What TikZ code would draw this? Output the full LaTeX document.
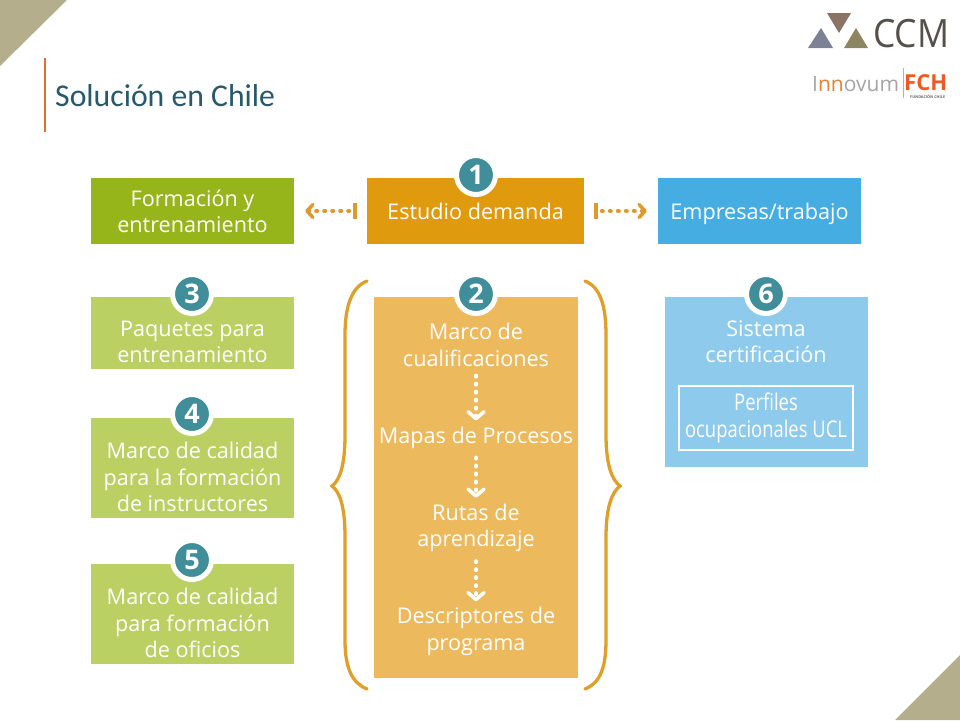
\documentclass[tikz,border=0pt]{standalone}
\usepackage{fontspec}
\usetikzlibrary{arrows.meta}
\setmainfont{Open Sans}
\newfontfamily\titlefont{Carlito}
\newfontfamily\condfont[FakeStretch=0.80]{Open Sans}
\definecolor{corner}{HTML}{B5AE8C}
\definecolor{titlecol}{HTML}{27596A}
\definecolor{barcol}{HTML}{E0702F}
\definecolor{grA}{HTML}{95B51A}
\definecolor{grB}{HTML}{BBD063}
\definecolor{orA}{HTML}{E09A0D}
\definecolor{orB}{HTML}{ECB95C}
\definecolor{blA}{HTML}{45ADE2}
\definecolor{blB}{HTML}{8ECAEC}
\definecolor{teal}{HTML}{3F8E99}
\definecolor{brace}{HTML}{DFA02A}
\definecolor{arrowcol}{HTML}{DD9A2B}
\definecolor{fchcol}{HTML}{EF5A24}
\definecolor{logoA}{HTML}{7B8296}
\definecolor{logoB}{HTML}{8D7266}
\definecolor{logoC}{HTML}{8D8460}
\definecolor{logoT}{HTML}{55504B}
\definecolor{innT}{HTML}{A5A5A5}
\definecolor{innO}{HTML}{E8802F}
\tikzset{
  x=1pt,y=-1pt,
  bodytext/.style={font=\fontsize{21.6}{26.3}\selectfont,text=white,align=center,inner sep=0pt},
  card/.style={bodytext,minimum width=#1,rectangle},
  badge/.style={circle,fill=teal,draw=white,line width=5pt,minimum size=39pt,inner sep=0pt,text=white,font=\fontsize{27}{27}\selectfont\bfseries},
  sidearrow/.style={draw=arrowcol,line width=4pt,dash pattern=on 1pt off 7pt,dash phase=3pt,line cap=round,
    {Bar[width=16pt,line width=3.5pt,sep=3pt]}-{Straight Barb[length=6pt,width=13pt,line width=3.5pt,round]}},
  downarrow/.style={draw=white,line width=4pt,dash pattern=on 1pt off 7pt,line cap=round,
    -{Straight Barb[length=7pt,width=16pt,line width=3.5pt,round]}},
  bracecurve/.style={draw=brace,line width=3.3pt,line cap=round},
}
\begin{document}
\begin{tikzpicture}
\useasboundingbox (0,0) rectangle (960,720);
\fill[white] (0,0) rectangle (960,720);
% corners
\fill[corner] (0,0) -- (67,0) -- (0,66) -- cycle;
\fill[corner] (960,720) -- (895,720) -- (960,655) -- cycle;
% title
\draw[barcol,line width=1.5pt] (45,58) -- (45,132);
\node[anchor=west,inner sep=0pt,text=titlecol,font=\titlefont\fontsize{31.7}{31.7}\selectfont] (title) at (55,96) {Solución en Chile};
% logo
\fill[logoA] (808,48) -- (833,48) -- (821,28) -- cycle;
\fill[logoB] (827,13) -- (851,13) -- (839,33) -- cycle;
\fill[logoC] (844,48) -- (868,48) -- (856,28) -- cycle;
\node[anchor=west,inner sep=0pt,text=logoT,font=\fontsize{39}{39}\selectfont,xscale=0.91] (ccm) at (873,34) {CCM};
\node[anchor=west,inner sep=0pt,text=innT,font=\fontsize{21}{21}\selectfont] (inn) at (812,84) {I\textcolor{innO}{nn}ovum};
\draw[black!30,line width=0.8pt] (903,68) -- (903,98);
\node[anchor=west,inner sep=0pt,text=fchcol,font=\fontsize{22}{22}\selectfont\bfseries] (fch) at (904,82.5) {FCH};
\node[anchor=west,inner sep=0pt,text=black!60,font=\fontsize{3.8}{3.8}\selectfont\bfseries] (fund) at (910,97) {FUNDACIÓN CHILE};
% top row
\node[card=203pt,minimum height=66pt,fill=grA] (form) at (192.5,211) {Formación y\\entrenamiento};
\node[card=217pt,minimum height=66pt,fill=orA,text height=18pt,text depth=2pt] (est) at (475.5,211) {Estudio demanda};
\node[card=203pt,minimum height=66pt,fill=blA,text height=18pt,text depth=2pt] (emp) at (759.5,211) {Empresas/trabajo};
% left column
\node[card=203pt,minimum height=72pt,fill=grB] (paq) at (192.5,333) {};
\node[bodytext] (paqt) at (192.5,342) {Paquetes para\\entrenamiento};
\node[card=203pt,minimum height=100pt,fill=grB] (cal) at (192.5,468) {};
\node[bodytext] (calt) at (192.5,477) {Marco de calidad\\para la formación\\de instructores};
\node[card=203pt,minimum height=100pt,fill=grB] (ofi) at (192.5,614) {};
\node[bodytext] (ofit) at (192.5,623) {Marco de calidad\\para formación\\de oficios};
% centre column
\node[card=204pt,minimum height=381pt,fill=orB] (mid) at (476,487.5) {};
\node[bodytext] (marco) at (476,345) {Marco de\\cualificaciones};
\node[bodytext] (mapas) at (476,437.5) {Mapas de Procesos};
\node[bodytext] (rutas) at (476,528) {Rutas de\\aprendizaje};
\node[bodytext] (desc) at (476,631.5) {Descriptores de\\programa};
% right column
\node[card=203pt,minimum height=170pt,fill=blB] (cert) at (766.5,382) {};
\node[bodytext] (certt) at (766,342) {Sistema\\certificación};
\node[draw=white,line width=1.5pt,minimum width=174pt,minimum height=64pt,inner sep=0pt,text=white,align=center,font=\condfont\fontsize{23}{27}\selectfont] (perf) at (766,418) {Perfiles\\ocupacionales UCL};
% badges
\node[badge] (b1) at (476,175) {1};
\node[badge] (b2) at (476,294) {2};
\node[badge] (b3) at (192,294) {3};
\node[badge] (b4) at (192,414) {4};
\node[badge] (b5) at (192,560) {5};
\node[badge] (b6) at (766,294) {6};
% side arrows
\draw[sidearrow,shorten <=7pt,shorten >=11pt] (est.west) -- (form.east);
\draw[sidearrow,shorten <=7pt,shorten >=11pt] (est.east) -- (emp.west);
% vertical arrows
\draw[downarrow,shorten <=9pt,shorten >=6pt] (marco.south) -- (mapas.north);
\draw[downarrow,shorten <=9pt,shorten >=6pt] (mapas.south) -- (rutas.north);
\draw[downarrow,shorten <=9pt,shorten >=6pt] (rutas.south) -- (desc.north);
% braces
\draw[bracecurve] (367,281) .. controls (352,287) and (345,305) .. (345,335)
  -- (345,435) .. controls (345,465) and (340,480) .. (332,486)
  .. controls (340,492) and (345,507) .. (345,537)
  -- (345,640) .. controls (345,668) and (352,683) .. (367,689);
\draw[bracecurve] (585,281) .. controls (600,287) and (606,305) .. (606,335)
  -- (606,435) .. controls (606,465) and (612,480) .. (620,486)
  .. controls (612,492) and (606,507) .. (606,537)
  -- (606,640) .. controls (606,668) and (600,683) .. (585,689);
\end{tikzpicture}
\end{document}
